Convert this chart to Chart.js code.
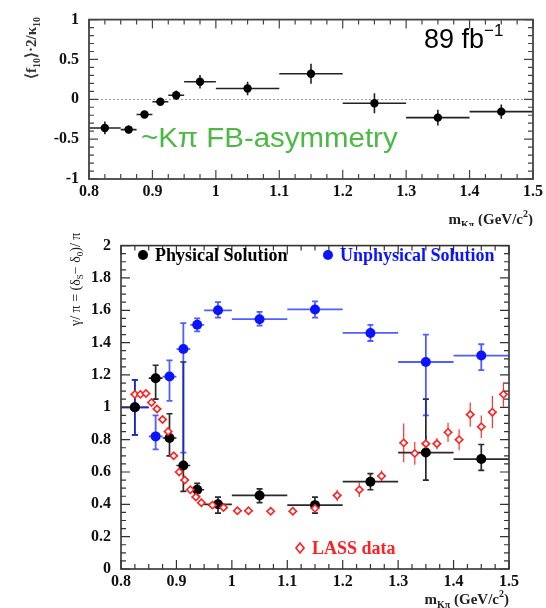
<!DOCTYPE html>
<html>
<head>
<meta charset="utf-8">
<script src="https://cdn.jsdelivr.net/npm/chart.js@4.4.1/dist/chart.umd.min.js"></script>
<style>
  html, body { margin: 0; padding: 0; background: #fff; }
  #wrap { position: relative; width: 546px; height: 608px; overflow: hidden; }
  canvas { position: absolute; left: 0; }
  #topChart { top: 0; }
  #botChart { top: 226px; }
</style>
</head>
<body>
<div id="wrap">
  <canvas id="topChart" width="546" height="226"></canvas>
  <canvas id="botChart" width="546" height="382"></canvas>
</div>
<script>
// K-pi mass bins (GeV/c^2)
const binLo  = [0.80, 0.85, 0.875, 0.90, 0.925, 0.95, 1.0, 1.1, 1.2, 1.3, 1.4];
const binHi  = [0.85, 0.875, 0.90, 0.925, 0.95, 1.0, 1.1, 1.2, 1.3, 1.4, 1.5];
const binMid = [0.825, 0.8625, 0.8875, 0.9125, 0.9375, 0.975, 1.05, 1.15, 1.25, 1.35, 1.45];

// top panel: <f10>*2/k10
const fbAsym = [-0.36, -0.38, -0.19, -0.03, 0.05, 0.22, 0.135, 0.32, -0.05, -0.23, -0.155];
const fbErr  = [0.08, 0.05, 0.035, 0.035, 0.06, 0.085, 0.085, 0.125, 0.125, 0.10, 0.09];

// bottom panel: phase difference / pi
const physVal     = [1.00, 1.18, 0.81, 0.64, 0.49, 0.40, 0.455, 0.395, 0.54, 0.72, 0.68];
const physErrHi   = [0.17, 0.08, 0.15, 0.64, 0.04, 0.045, 0.04, 0.05, 0.05, 0.33, 0.09];
const physErrLo   = [0.17, 0.13, 0.11, 0.16, 0.04, 0.055, 0.045, 0.05, 0.05, 0.17, 0.07];
const unphysVal   = [1.00, 0.82, 1.19, 1.36, 1.51, 1.60, 1.545, 1.605, 1.46, 1.28, 1.32];
const unphysErrHi = [0.17, 0.13, 0.10, 0.16, 0.04, 0.05, 0.045, 0.05, 0.05, 0.17, 0.07];
const unphysErrLo = [0.17, 0.08, 0.15, 0.64, 0.04, 0.045, 0.04, 0.05, 0.05, 0.33, 0.09];

// LASS data
const lassMass = [0.825, 0.835, 0.845, 0.855, 0.865, 0.875, 0.885, 0.895, 0.905, 0.915, 0.925,
                  0.935, 0.945, 0.965, 0.985, 1.01, 1.03, 1.07, 1.11, 1.15, 1.19, 1.23, 1.27,
                  1.31, 1.33, 1.35, 1.37, 1.39, 1.41, 1.43, 1.45, 1.47, 1.49];
const lassVal  = [1.08, 1.08, 1.085, 1.03, 0.99, 0.925, 0.85, 0.70, 0.60, 0.55, 0.49,
                  0.445, 0.41, 0.395, 0.38, 0.36, 0.36, 0.357, 0.357, 0.375, 0.455, 0.49, 0.575,
                  0.78, 0.715, 0.775, 0.775, 0.845, 0.80, 0.955, 0.88, 0.97, 1.08];
const lassErr  = [0.015, 0.015, 0.015, 0.015, 0.015, 0.015, 0.015, 0.015, 0.015, 0.015, 0.015,
                  0.015, 0.015, 0.015, 0.015, 0.015, 0.015, 0.015, 0.015, 0.015, 0.035, 0.045, 0.035,
                  0.12, 0.07, 0.05, 0.035, 0.06, 0.065, 0.075, 0.07, 0.10, 0.075];
const lassHalfBin = 0.008;

const serif = '"Liberation Serif", "Times New Roman", serif';
const sans = '"Liberation Sans", Arial, sans-serif';

const pts = (xs, ys) => xs.map((x, i) => ({ x: x, y: ys[i] }));
const fmt = v => String(+(+v).toFixed(2));

// draws text made of parts (sub/superscripts), optionally rotated / stretched
function drawRich(ctx, n) {
  ctx.save();
  ctx.translate(n.x, n.y);
  if (n.rotate) ctx.rotate(n.rotate);
  if (n.sx) ctx.scale(n.sx, 1);
  let total = 0;
  n.parts.forEach(p => { ctx.font = p.font; total += ctx.measureText(p.t).width; });
  let cx = n.align === 'right' ? -total : (n.align === 'center' ? -total / 2 : 0);
  ctx.textBaseline = 'alphabetic';
  n.parts.forEach(p => {
    ctx.font = p.font;
    ctx.fillStyle = p.color || n.color || '#000';
    ctx.fillText(p.t, cx, p.dy || 0);
    cx += ctx.measureText(p.t).width;
  });
  ctx.restore();
}

const errorBars = {
  id: 'errorBars',
  beforeDatasetsDraw(chart) {
    const { ctx, scales: { x, y } } = chart;
    ctx.save();
    chart.data.datasets.forEach(ds => {
      if (!ds.err) return;
      const e = ds.err;
      ctx.strokeStyle = e.color;
      ctx.lineWidth = e.width;
      ds.data.forEach((p, i) => {
        const px = x.getPixelForValue(p.x), py = y.getPixelForValue(p.y);
        ctx.beginPath();
        if (e.xLo) {
          ctx.moveTo(x.getPixelForValue(e.xLo[i]), py);
          ctx.lineTo(x.getPixelForValue(e.xHi[i]), py);
        }
        const y1 = y.getPixelForValue(e.yLo[i]), y2 = y.getPixelForValue(e.yHi[i]);
        ctx.moveTo(px, y1); ctx.lineTo(px, y2);
        if (e.cap) {
          ctx.moveTo(px - e.cap, y1); ctx.lineTo(px + e.cap, y1);
          ctx.moveTo(px - e.cap, y2); ctx.lineTo(px + e.cap, y2);
        }
        ctx.stroke();
      });
    });
    ctx.restore();
  }
};

const frame = {
  id: 'frame',
  beforeDatasetsDraw(chart, args, o) {
    if (!o.zeroLine) return;
    const { ctx, chartArea: a, scales: { y } } = chart;
    const py = Math.round(y.getPixelForValue(0)) + 0.5;
    ctx.save();
    ctx.strokeStyle = '#999';
    ctx.lineWidth = 1;
    ctx.setLineDash([2, 2]);
    ctx.beginPath(); ctx.moveTo(a.left, py); ctx.lineTo(a.right, py); ctx.stroke();
    ctx.restore();
  },
  afterDraw(chart, args, o) {
    const { ctx, chartArea: a, scales: { x, y } } = chart;
    ctx.save();
    ctx.strokeStyle = o.color;
    ctx.lineWidth = 1.2;
    ctx.beginPath();
    const nx = Math.round((x.max - x.min) / o.xMinor);
    for (let i = 0; i <= nx; i++) {
      const px = x.getPixelForValue(x.min + i * o.xMinor);
      const L = i % o.xEvery === 0 ? o.majorLen : o.minorLen;
      ctx.moveTo(px, a.bottom); ctx.lineTo(px, a.bottom - L);
      ctx.moveTo(px, a.top); ctx.lineTo(px, a.top + L);
    }
    const ny = Math.round((y.max - y.min) / o.yMinor);
    for (let i = 0; i <= ny; i++) {
      const py = y.getPixelForValue(y.min + i * o.yMinor);
      const L = i % o.yEvery === 0 ? o.majorLen : o.minorLen;
      ctx.moveTo(a.left, py); ctx.lineTo(a.left + L, py);
      ctx.moveTo(a.right, py); ctx.lineTo(a.right - L, py);
    }
    ctx.stroke();
    ctx.lineWidth = o.width;
    ctx.strokeRect(a.left, a.top, a.right - a.left, a.bottom - a.top);
    ctx.restore();
    (o.notes || []).forEach(n => drawRich(ctx, n));
    (o.keys || []).forEach(k => {
      ctx.save();
      ctx.beginPath();
      if (k.shape === 'diamond') {
        ctx.moveTo(k.x, k.y - 5); ctx.lineTo(k.x + 4, k.y); ctx.lineTo(k.x, k.y + 5); ctx.lineTo(k.x - 4, k.y);
        ctx.closePath();
        ctx.fillStyle = '#fff'; ctx.fill();
        ctx.strokeStyle = k.color; ctx.lineWidth = 1.6; ctx.stroke();
      } else {
        ctx.arc(k.x, k.y, 5, 0, Math.PI * 2);
        ctx.fillStyle = k.color; ctx.fill();
      }
      ctx.restore();
    });
  }
};

const tickFont = { family: serif, size: 16, weight: 'bold' };

function axes(xw, yw, ymin, ymax, ystep) {
  return {
    x: {
      type: 'linear', min: 0.8, max: 1.5,
      grid: { display: false, drawTicks: false }, border: { display: false },
      ticks: { stepSize: 0.1, color: '#111', font: tickFont, padding: 3, autoSkip: false,
               maxRotation: 0, callback: fmt },
      afterFit: s => { s.height = xw; }
    },
    y: {
      type: 'linear', min: ymin, max: ymax,
      grid: { display: false, drawTicks: false }, border: { display: false },
      ticks: { stepSize: ystep, color: '#111', font: tickFont, padding: 10, callback: fmt },
      afterFit: s => { s.width = yw; }
    }
  };
}

// ---------- top panel ----------
new Chart(document.getElementById('topChart'), {
  type: 'scatter',
  data: {
    datasets: [{
      data: pts(binMid, fbAsym),
      pointRadius: 4.2, pointHoverRadius: 4.2,
      backgroundColor: '#000', borderColor: '#000', borderWidth: 0,
      err: {
        color: '#222', width: 1.6,
        xLo: binLo, xHi: binHi,
        yLo: fbAsym.map((v, i) => v - fbErr[i]),
        yHi: fbAsym.map((v, i) => v + fbErr[i])
      }
    }]
  },
  options: {
    responsive: false, animation: false, devicePixelRatio: 1,
    layout: { padding: { left: 0, top: 14, right: 13, bottom: 0 } },
    scales: axes(47, 89, -1, 1, 0.5),
    plugins: {
      legend: { display: false }, tooltip: { enabled: false },
      frame: {
        color: '#444', width: 1.8, zeroLine: true,
        xMinor: 0.025, xEvery: 4, yMinor: 0.1, yEvery: 5, majorLen: 9, minorLen: 5,
        notes: [
          { x: 424, y: 48, parts: [
            { t: '89 fb', font: '27px ' + sans },
            { t: '\u22121', font: '17px ' + sans, dy: -12 } ] },
          { x: 141, y: 147, sx: 1.09, color: '#4cb944', parts: [
            { t: '~K\u03c0 FB-asymmetry', font: '27px ' + sans } ] },
          { x: 36, y: 79, rotate: -Math.PI / 2, color: '#333', parts: [
            { t: '\u27e8f', font: 'bold 15px ' + serif },
            { t: '10', font: 'bold 10px ' + serif, dy: 4 },
            { t: '\u27e9\u00b72/\u03ba', font: 'bold 15px ' + serif },
            { t: '10', font: 'bold 10px ' + serif, dy: 4 } ] },
          { x: 533, y: 224, align: 'right', color: '#222', parts: [
            { t: 'm', font: 'bold 15px ' + serif },
            { t: 'K\u03c0', font: 'bold 10px ' + serif, dy: 4 },
            { t: ' (GeV/c', font: 'bold 15px ' + serif },
            { t: '2', font: 'bold 10px ' + serif, dy: -7 },
            { t: ')', font: 'bold 15px ' + serif } ] }
        ]
      }
    }
  },
  plugins: [errorBars, frame]
});

// ---------- bottom panel ----------
new Chart(document.getElementById('botChart'), {
  type: 'scatter',
  data: {
    datasets: [{
      label: 'LASS data',
      data: pts(lassMass, lassVal),
      pointStyle: 'rectRot', pointRadius: 3.6, pointHoverRadius: 3.6,
      backgroundColor: '#fff', borderColor: '#ff2020', borderWidth: 1.6,
      err: {
        color: '#ff3030', width: 1.2,
        xLo: lassMass.map(v => v - lassHalfBin), xHi: lassMass.map(v => v + lassHalfBin),
        yLo: lassVal.map((v, i) => v - lassErr[i]),
        yHi: lassVal.map((v, i) => v + lassErr[i])
      }
    }, {
      label: 'Physical Solution',
      data: pts(binMid, physVal),
      pointRadius: 5, pointHoverRadius: 5,
      backgroundColor: '#000', borderColor: '#000', borderWidth: 0,
      err: {
        color: '#2a2a2a', width: 1.7, cap: 3,
        xLo: binLo, xHi: binHi,
        yLo: physVal.map((v, i) => v - physErrLo[i]),
        yHi: physVal.map((v, i) => v + physErrHi[i])
      }
    }, {
      label: 'Unphysical Solution',
      data: pts(binMid, unphysVal),
      pointRadius: 5, pointHoverRadius: 5,
      backgroundColor: '#0a14ff', borderColor: '#0a14ff', borderWidth: 0,
      err: {
        color: 'rgba(20,40,255,0.75)', width: 1.8, cap: 3,
        xLo: binLo, xHi: binHi,
        yLo: unphysVal.map((v, i) => v - unphysErrLo[i]),
        yHi: unphysVal.map((v, i) => v + unphysErrHi[i])
      }
    }]
  },
  options: {
    responsive: false, animation: false, devicePixelRatio: 1,
    layout: { padding: { left: 0, top: 11, right: 37, bottom: 0 } },
    scales: axes(39, 121, 0, 2, 0.2),
    plugins: {
      legend: { display: false }, tooltip: { enabled: false },
      frame: {
        color: '#333', width: 1.6,
        xMinor: 0.025, xEvery: 4, yMinor: 0.05, yEvery: 4, majorLen: 9, minorLen: 5,
        keys: [
          { x: 143, y: 29, color: '#000' },
          { x: 328, y: 29, color: '#0a14ff' },
          { x: 300, y: 322, color: '#ff2020', shape: 'diamond' }
        ],
        notes: [
          { x: 155, y: 35, parts: [{ t: 'Physical Solution', font: 'bold 18px ' + serif }] },
          { x: 340, y: 35, color: '#0a14ff', parts: [{ t: 'Unphysical Solution', font: 'bold 18px ' + serif }] },
          { x: 312, y: 328, color: '#ff2020', parts: [{ t: 'LASS data', font: 'bold 18px ' + serif }] },
          { x: 80, y: 100, rotate: -Math.PI / 2, color: '#222', parts: [
            { t: '\u03b3/ \u03c0 = (\u03b4', font: '14px ' + serif },
            { t: 'S', font: '9px ' + serif, dy: 3 },
            { t: '\u2212 \u03b4', font: '14px ' + serif },
            { t: '0', font: '9px ' + serif, dy: 3 },
            { t: ')/ \u03c0', font: '14px ' + serif } ] },
          { x: 509, y: 378, align: 'right', color: '#222', parts: [
            { t: 'm', font: 'bold 15px ' + serif },
            { t: 'K\u03c0', font: 'bold 10px ' + serif, dy: 4 },
            { t: ' (GeV/c', font: 'bold 15px ' + serif },
            { t: '2', font: 'bold 10px ' + serif, dy: -7 },
            { t: ')', font: 'bold 15px ' + serif } ] }
        ]
      }
    }
  },
  plugins: [errorBars, frame]
});
</script>
</body>
</html>
